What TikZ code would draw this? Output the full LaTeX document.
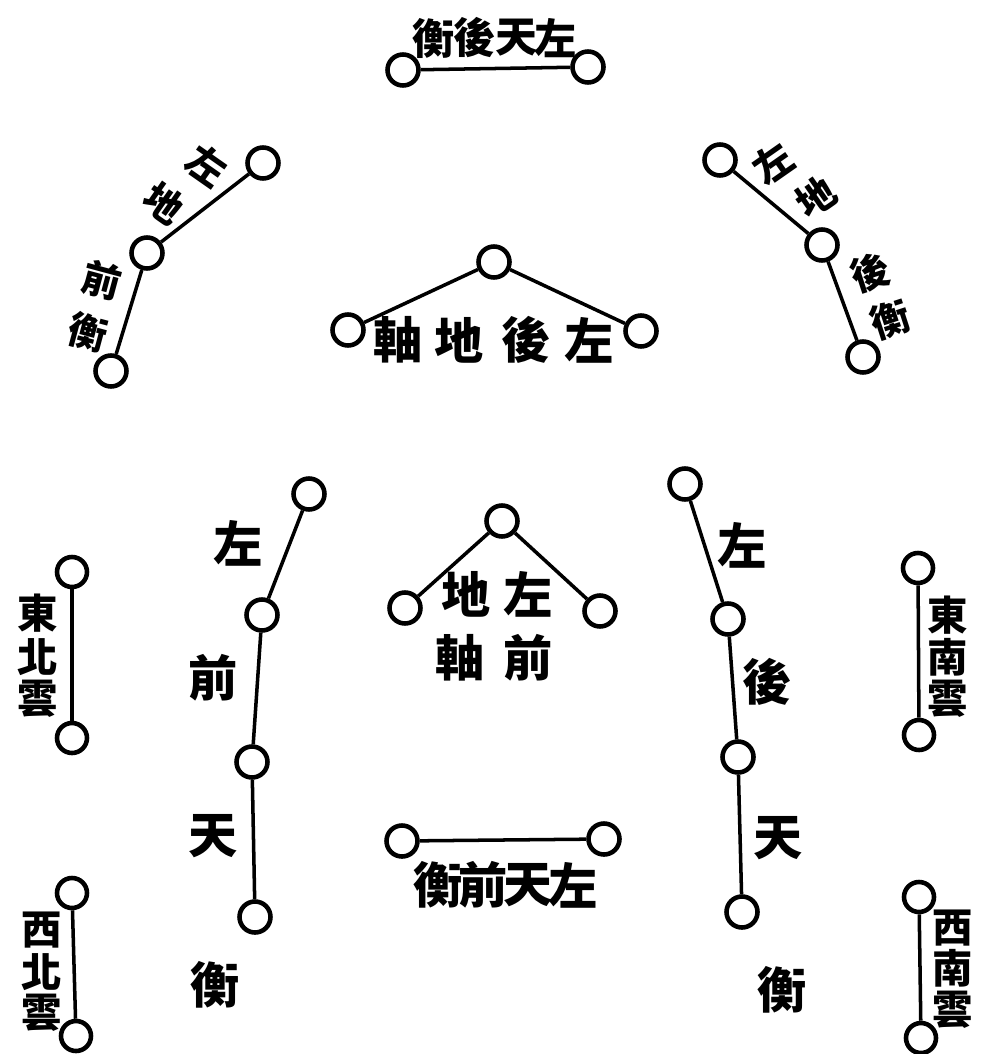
\documentclass[tikz,border=0pt]{standalone}
\usepackage{fontspec}
\newfontfamily\cjk{Noto Sans CJK TC}
\begin{document}
\begin{tikzpicture}[x=0.02cm,y=-0.02cm,
  dot/.style={circle, draw, line width=2.6pt, minimum size=0.62cm, inner sep=0pt},
  sdot/.style={dot, minimum size=0.6cm},
  link/.style={line width=2pt},
  big/.style={font=\cjk\bfseries\fontsize{28}{28}\selectfont, inner sep=0pt},
  mid/.style={font=\cjk\bfseries\fontsize{24}{24}\selectfont, inner sep=0pt},
  sml/.style={font=\cjk\bfseries\fontsize{22}{22}\selectfont, inner sep=0pt},
  cld/.style={font=\cjk\bfseries\fontsize{23}{23}\selectfont, inner sep=0pt}]
\useasboundingbox[fill=white] (0,0) rectangle (983,1054);

% ---- top: 衡後天左
\node[dot] (t1) at (403,70) {};
\node[dot] (t2) at (588,67) {};
\draw[link] (t1) -- (t2);
\node[mid] (tt1) at (434,38) {衡};
\node[mid] (tt2) at (475,38) {後};
\node[mid] (tt3) at (517,38) {天};
\node[mid] (tt4) at (556,38) {左};

% ---- upper left chain
\node[dot] (ul1) at (263,163) {};
\node[dot] (ul2) at (147,253) {};
\node[dot] (ul3) at (111,371) {};
\draw[link] (ul1) -- (ul2);
\draw[link] (ul2) -- (ul3);
\node[sml, rotate=-35] (ult1) at (207,165) {左};
\node[sml, rotate=-35] (ult2) at (164,203) {地};
\node[sml, rotate=-15] (ult3) at (102,280) {前};
\node[sml, rotate=-15] (ult4) at (88,332) {衡};

% ---- upper right chain
\node[dot] (ur1) at (720,160) {};
\node[dot] (ur2) at (822,245) {};
\node[dot] (ur3) at (863,357) {};
\draw[link] (ur1) -- (ur2);
\draw[link] (ur2) -- (ur3);
\node[sml, rotate=35] (urt1) at (773,163) {左};
\node[sml, rotate=35] (urt2) at (816,197) {地};
\node[sml, rotate=18] (urt3) at (870,273) {後};
\node[sml, rotate=18] (urt4) at (890,320) {衡};

% ---- upper middle: 軸地後左
\node[dot] (um1) at (348,330) {};
\node[dot] (um2) at (494,262) {};
\node[dot] (um3) at (641,331) {};
\draw[link] (um2) -- (um1);
\draw[link] (um2) -- (um3);
\node[big] (umt1) at (398,340) {軸};
\node[big] (umt2) at (459,340) {地};
\node[big] (umt3) at (526,340) {後};
\node[big] (umt4) at (589,340) {左};

% ---- lower middle: 地左 / 軸前
\node[dot] (lm1) at (405,608) {};
\node[dot] (lm2) at (502,521) {};
\node[dot] (lm3) at (600,611) {};
\draw[link] (lm2) -- (lm1);
\draw[link] (lm2) -- (lm3);
\node[big] (lmt1) at (466,594) {地};
\node[big] (lmt2) at (528,594) {左};
\node[big] (lmt3) at (460,658) {軸};
\node[big] (lmt4) at (528,658) {前};

% ---- bottom: 衡前天左
\node[dot] (b1) at (402,841) {};
\node[dot] (b2) at (604,839) {};
\draw[link] (b1) -- (b2);
\node[big] (bt1) at (438,885) {衡};
\node[big] (bt2) at (483,885) {前};
\node[big] (bt3) at (528,885) {天};
\node[big] (bt4) at (573,885) {左};

% ---- lower left chain
\node[dot] (ll1) at (309,494) {};
\node[dot] (ll2) at (262,615) {};
\node[dot] (ll3) at (252,762) {};
\node[dot] (ll4) at (255,917) {};
\draw[link] (ll1) -- (ll2);
\draw[link] (ll2) -- (ll3);
\draw[link] (ll3) -- (ll4);
\node[big] (llt1) at (238,543) {左};
\node[big] (llt2) at (213,678) {前};
\node[big] (llt3) at (213,836) {天};
\node[big] (llt4) at (215,985) {衡};

% ---- lower right chain
\node[dot] (lr1) at (685,484) {};
\node[dot] (lr2) at (728,619) {};
\node[dot] (lr3) at (738,757) {};
\node[dot] (lr4) at (742,912) {};
\draw[link] (lr1) -- (lr2);
\draw[link] (lr2) -- (lr3);
\draw[link] (lr3) -- (lr4);
\node[big] (lrt1) at (742,545) {左};
\node[big] (lrt2) at (767,682) {後};
\node[big] (lrt3) at (778,838) {天};
\node[big] (lrt4) at (782,990) {衡};

% ---- clouds
\node[sdot] (c1a) at (72,572) {};
\node[sdot] (c1b) at (72,738) {};
\draw[link] (c1a) -- (c1b);
\node[cld] (c1t1) at (38,613) {東};
\node[cld] (c1t2) at (38,657) {北};
\node[cld] (c1t3) at (38,699) {雲};

\node[sdot] (c2a) at (72,893) {};
\node[sdot] (c2b) at (76,1036) {};
\draw[link] (c2a) -- (c2b);
\node[cld] (c2t1) at (42,930) {西};
\node[cld] (c2t2) at (42,972) {北};
\node[cld] (c2t3) at (42,1013) {雲};

\node[sdot] (c3a) at (918,568) {};
\node[sdot] (c3b) at (919,735) {};
\draw[link] (c3a) -- (c3b);
\node[cld] (c3t1) at (948,615) {東};
\node[cld] (c3t2) at (948,657) {南};
\node[cld] (c3t3) at (948,699) {雲};

\node[sdot] (c4a) at (919,897) {};
\node[sdot] (c4b) at (921,1038) {};
\draw[link] (c4a) -- (c4b);
\node[cld] (c4t1) at (953,928) {西};
\node[cld] (c4t2) at (953,968) {南};
\node[cld] (c4t3) at (953,1010) {雲};
\end{tikzpicture}
\end{document}
